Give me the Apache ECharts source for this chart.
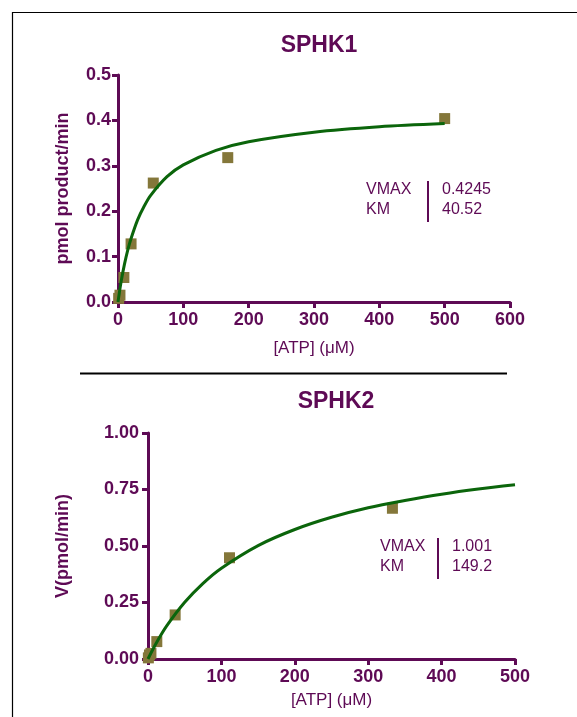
<!DOCTYPE html>
<html>
<head>
<meta charset="utf-8">
<title>SPHK1 / SPHK2</title>
<script src="https://cdn.jsdelivr.net/npm/echarts@6/dist/echarts.min.js"></script>
<style>
  html, body { margin: 0; padding: 0; background: #fff; }
  #main { width: 577px; height: 717px; }
</style>
</head>
<body>
<div id="main"></div>
<script>
// measured points, [ATP] (uM) vs rate
var atp1 = [1, 3, 9, 20, 54, 168, 500];
var rate1 = [0.008, 0.015, 0.054, 0.128, 0.262, 0.318, 0.404];
var atp2 = [0.5, 2, 4, 12, 37, 111, 333];
var rate2 = [0.005, 0.018, 0.025, 0.077, 0.195, 0.448, 0.667];

// fitted curves
var fitX1 = [0, 2, 5, 10, 15, 20, 30, 40, 50, 75, 100, 150, 200, 300, 400, 500];
var fitY1 = [0, 0.020, 0.047, 0.084, 0.115, 0.140, 0.181, 0.211, 0.235, 0.276, 0.302, 0.334, 0.353, 0.374, 0.386, 0.393];
var fitX2 = [0, 10, 25, 50, 75, 100, 150, 200, 250, 300, 350, 400, 450, 500];
var fitY2 = [0, 0.063, 0.144, 0.251, 0.335, 0.402, 0.502, 0.573, 0.627, 0.669, 0.701, 0.729, 0.752, 0.771];

var xTicks1 = [0, 600, 100];
var yTicks1 = [0, 0.5, 0.1];
var xTicks2 = [0, 500, 100];
var yTicks2 = [0, 1, 0.25];

var fit1 = { label: ['VMAX', 'KM'], value: ['0.4245', '40.52'] };
var fit2 = { label: ['VMAX', 'KM'], value: ['1.001', '149.2'] };

var purple = '#5e0a55';
var green = '#0b650b';
var olive = '#84773a';
var font = '"Liberation Sans", Arial, sans-serif';

function pairs(xs, ys) {
    return xs.map(function (x, i) { return [x, ys[i]]; });
}

function xAxisOf(idx, t, gap) {
    return {
        gridIndex: idx, type: 'value', min: t[0], max: t[1], interval: t[2],
        name: '[ATP] (μM)', nameLocation: 'middle', nameGap: gap,
        nameTextStyle: { color: purple, fontSize: 17, fontFamily: font },
        axisLine: { onZero: false, lineStyle: { color: purple, width: 3 } },
        axisTick: { length: 6, lineStyle: { color: purple, width: 3 } },
        axisLabel: { color: purple, fontSize: 18, fontWeight: 'bold', fontFamily: font, margin: 9 },
        splitLine: { show: false }
    };
}

function yAxisOf(idx, t, name, gap, digits, margin) {
    return {
        gridIndex: idx, type: 'value', min: t[0], max: t[1], interval: t[2],
        name: name, nameLocation: 'middle', nameGap: gap,
        nameTextStyle: { color: purple, fontSize: 18, fontWeight: 'bold', fontFamily: font },
        axisLine: { show: true, onZero: false, lineStyle: { color: purple, width: 3 } },
        axisTick: { show: true, length: 6, lineStyle: { color: purple, width: 3 } },
        axisLabel: {
            color: purple, fontSize: 18, fontWeight: 'bold', fontFamily: font, margin: margin,
            formatter: function (v) { return v.toFixed(digits); }
        },
        splitLine: { show: false }
    };
}

function fitBox(fit, x, y, lineX) {
    var txt = { fill: purple, fontSize: 16, fontFamily: font, textVerticalAlign: 'middle' };
    return [
        { type: 'text', left: x, top: y - 9, style: Object.assign({ text: fit.label[0] }, txt) },
        { type: 'text', left: x, top: y + 11, style: Object.assign({ text: fit.label[1] }, txt) },
        { type: 'text', left: lineX + 14, top: y - 9, style: Object.assign({ text: fit.value[0] }, txt) },
        { type: 'text', left: lineX + 14, top: y + 11, style: Object.assign({ text: fit.value[1] }, txt) },
        { type: 'line', shape: { x1: lineX, y1: y - 10, x2: lineX, y2: y + 31 },
          style: { stroke: purple, lineWidth: 2 } }
    ];
}

var myChart = echarts.init(document.getElementById('main'));

myChart.setOption({
    animation: false,
    backgroundColor: '#fff',
    title: [
        { text: 'SPHK1', left: 314, top: 29, textAlign: 'center',
          textStyle: { color: purple, fontSize: 23, fontWeight: 'bold', fontFamily: font } },
        { text: 'SPHK2', left: 331, top: 385, textAlign: 'center',
          textStyle: { color: purple, fontSize: 23, fontWeight: 'bold', fontFamily: font } }
    ],
    grid: [
        { left: 118, top: 75, width: 392, height: 227 },
        { left: 148, top: 433, width: 367, height: 226 }
    ],
    xAxis: [xAxisOf(0, xTicks1, 38), xAxisOf(1, xTicks2, 33)],
    yAxis: [
        yAxisOf(0, yTicks1, 'pmol product/min', 46, 1, 7),
        yAxisOf(1, yTicks2, 'V(pmol/min)', 76, 2, 9)
    ],
    series: [
        { type: 'scatter', xAxisIndex: 0, yAxisIndex: 0, data: pairs(atp1, rate1),
          symbol: 'rect', symbolSize: 11, itemStyle: { color: olive, opacity: 1 }, z: 2 },
        { type: 'line', xAxisIndex: 0, yAxisIndex: 0, data: pairs(fitX1, fitY1),
          smooth: 0.3, showSymbol: false, lineStyle: { color: green, width: 3 }, z: 3 },
        { type: 'scatter', xAxisIndex: 1, yAxisIndex: 1, data: pairs(atp2, rate2),
          symbol: 'rect', symbolSize: 11, itemStyle: { color: olive, opacity: 1 }, z: 2 },
        { type: 'line', xAxisIndex: 1, yAxisIndex: 1, data: pairs(fitX2, fitY2),
          smooth: 0.3, showSymbol: false, lineStyle: { color: green, width: 3 }, z: 3 }
    ],
    graphic: [
        // frame and divider
        { type: 'line', shape: { x1: 12.5, y1: 12, x2: 12.5, y2: 717 }, style: { stroke: '#000', lineWidth: 1.2 } },
        { type: 'line', shape: { x1: 12, y1: 12.5, x2: 577, y2: 12.5 }, style: { stroke: '#000', lineWidth: 1.2 } },
        { type: 'line', shape: { x1: 80, y1: 373.5, x2: 507, y2: 373.5 }, style: { stroke: '#000', lineWidth: 2 } }
    ].concat(fitBox(fit1, 366, 191, 428), fitBox(fit2, 380, 548, 438))
});
</script>
</body>
</html>
